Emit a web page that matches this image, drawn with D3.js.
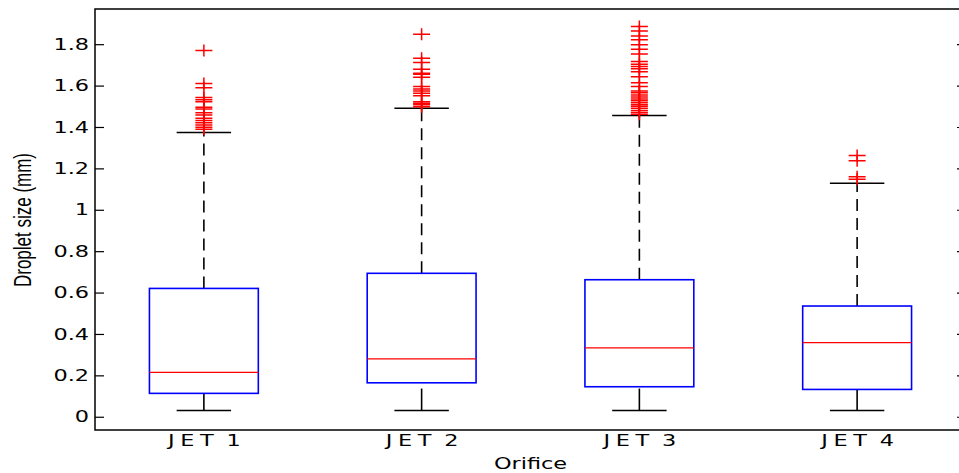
<!DOCTYPE html>
<html>
<head>
<meta charset="utf-8">
<script src="https://cdn.jsdelivr.net/npm/d3@7"></script>
<style>
  html, body { margin: 0; padding: 0; background: #fff; }
  svg { display: block; }
</style>
</head>
<body>
<svg id="chart" width="959" height="473"></svg>
<script>
// ---- data ----
const categories = ["JET 1", "JET 2", "JET 3", "JET 4"];
const whiskerLow  = [0.03, 0.03, 0.03, 0.03];
const q1          = [0.113, 0.164, 0.145, 0.132];
const medians     = [0.214, 0.280, 0.333, 0.358];
const q3          = [0.620, 0.693, 0.662, 0.535];
const whiskerHigh = [1.373, 1.490, 1.455, 1.128];
const outliersJet1 = [1.77, 1.61, 1.59, 1.542, 1.531, 1.522, 1.495, 1.487, 1.469, 1.458, 1.442, 1.431, 1.421, 1.410, 1.399, 1.389];
const outliersJet2 = [1.848, 1.732, 1.711, 1.679, 1.660, 1.655, 1.640, 1.595, 1.584, 1.574, 1.563, 1.551, 1.522, 1.515, 1.507, 1.498];
const outliersJet3 = [1.885, 1.864, 1.840, 1.821, 1.797, 1.776, 1.753, 1.716, 1.703, 1.692, 1.681, 1.667, 1.643, 1.614, 1.595,
                      1.574, 1.565, 1.555, 1.545, 1.535, 1.527, 1.517, 1.508, 1.500, 1.490, 1.480, 1.470, 1.462];
const outliersJet4 = [1.262, 1.237, 1.160, 1.147];
const outliers = [outliersJet1, outliersJet2, outliersJet3, outliersJet4];
const yTicks = [0, 0.2, 0.4, 0.6, 0.8, 1, 1.2, 1.4, 1.6, 1.8];
const yTickLabels = ["0", "0.2", "0.4", "0.6", "0.8", "1", "1.2", "1.4", "1.6", "1.8"];
const xTitle = "Orifice";
const yTitle = "Droplet size (mm)";

// ---- layout ----
const mLeft = 95, mRight = 966, mTop = 9, mBottom = 430;
const SX = 1.4; // horizontal stretch of glyphs in the reference

const svg = d3.select("#chart");
const x = d3.scalePoint().domain(categories).range([mLeft, mRight]).padding(0.5);
const y = d3.scaleLinear().domain([-0.064, 1.97]).range([mBottom, mTop]);
const step = x.step();
const boxW = step * 0.5;
const capW = step * 0.25;

const boxes = categories.map((c, i) => ({
  c, lo: whiskerLow[i], q1: q1[i], med: medians[i], q3: q3[i], hi: whiskerHigh[i], out: outliers[i]
}));

const g = svg.append("g");

// whiskers (dashed)
g.selectAll(".wup").data(boxes).join("line")
  .attr("x1", d => x(d.c)).attr("x2", d => x(d.c))
  .attr("y1", d => y(d.q3)).attr("y2", d => y(d.hi))
  .attr("stroke", "#000").attr("stroke-width", 1.6).attr("stroke-dasharray", "12,7");
g.selectAll(".wlo").data(boxes).join("line")
  .attr("x1", d => x(d.c)).attr("x2", d => x(d.c))
  .attr("y1", d => y(d.lo)).attr("y2", d => y(d.q1))
  .attr("stroke", "#000").attr("stroke-width", 1.6).attr("stroke-dasharray", "22,7");
// caps
["hi", "lo"].forEach(k => {
  g.selectAll(".cap" + k).data(boxes).join("line")
    .attr("x1", d => x(d.c) - capW / 2).attr("x2", d => x(d.c) + capW / 2)
    .attr("y1", d => y(d[k])).attr("y2", d => y(d[k]))
    .attr("stroke", "#000").attr("stroke-width", 1.5);
});
// boxes
g.selectAll(".box").data(boxes).join("rect")
  .attr("x", d => x(d.c) - boxW / 2).attr("width", boxW)
  .attr("y", d => y(d.q3)).attr("height", d => y(d.q1) - y(d.q3))
  .attr("fill", "none").attr("stroke", "#0000ff").attr("stroke-width", 1.6);
// medians
g.selectAll(".med").data(boxes).join("line")
  .attr("x1", d => x(d.c) - boxW / 2).attr("x2", d => x(d.c) + boxW / 2)
  .attr("y1", d => y(d.med)).attr("y2", d => y(d.med))
  .attr("stroke", "#ff0000").attr("stroke-width", 1.3);
// outliers
boxes.forEach(b => {
  g.append("g").selectAll("path").data(b.out).join("path")
    .attr("transform", v => `translate(${x(b.c)},${y(v)})`)
    .attr("d", "M-8.5,0H8.5M0,-6V6")
    .attr("stroke", "#ff0000").attr("stroke-width", 1.5).attr("fill", "none");
});

// frame
svg.append("rect").attr("x", mLeft).attr("y", mTop).attr("width", mRight - mLeft).attr("height", mBottom - mTop)
  .attr("fill", "none").attr("stroke", "#000").attr("stroke-width", 1.5);

// y axis (left)
const yAxis = d3.axisLeft(y).tickValues(yTicks).tickFormat((d, i) => yTickLabels[i])
  .tickSizeInner(-9).tickSizeOuter(0).tickPadding(6);
const ya = svg.append("g").attr("transform", `translate(${mLeft},0)`).call(yAxis);
ya.select(".domain").remove();
ya.selectAll("line").attr("stroke", "#000").attr("stroke-width", 1.2);
ya.selectAll("text")
  .attr("x", -6 / SX).attr("transform", `scale(${SX},1)`)
  .attr("font-family", "DejaVu Sans").attr("font-size", 16).attr("fill", "#000");

// y axis (right ticks)
const yAxisR = d3.axisRight(y).tickValues(yTicks).tickFormat("").tickSizeInner(-9).tickSizeOuter(0);
const yr = svg.append("g").attr("transform", `translate(${mRight},0)`).call(yAxisR);
yr.select(".domain").remove();
yr.selectAll("line").attr("stroke", "#000").attr("stroke-width", 1.2);

// x tick labels
const xAxis = d3.axisBottom(x).tickSize(0).tickPadding(0);
const xa = svg.append("g").attr("transform", `translate(0,${mBottom})`).call(xAxis);
xa.select(".domain").remove();
xa.selectAll(".tick text")
  .attr("y", 16).attr("dy", 0)
  .attr("x", 2)
  .attr("transform", `scale(${SX},1)`)
  .attr("letter-spacing", 4)
  .attr("word-spacing", -4)
  .attr("font-family", "DejaVu Sans").attr("font-size", 16).attr("fill", "#000");

// axis titles
svg.append("text")
  .attr("transform", `translate(${(mLeft + mRight) / 2},469) scale(${SX},1)`)
  .attr("text-anchor", "middle")
  .attr("font-family", "DejaVu Sans").attr("font-size", 16).attr("fill", "#000")
  .text(xTitle);
svg.append("text")
  .attr("transform", `translate(23,220) scale(${SX},1) rotate(-90)`)
  .attr("text-anchor", "middle").attr("dy", "0.35em")
  .attr("font-family", "Liberation Sans").attr("font-size", 17).attr("fill", "#000")
  .text(yTitle);
</script>
</body>
</html>
